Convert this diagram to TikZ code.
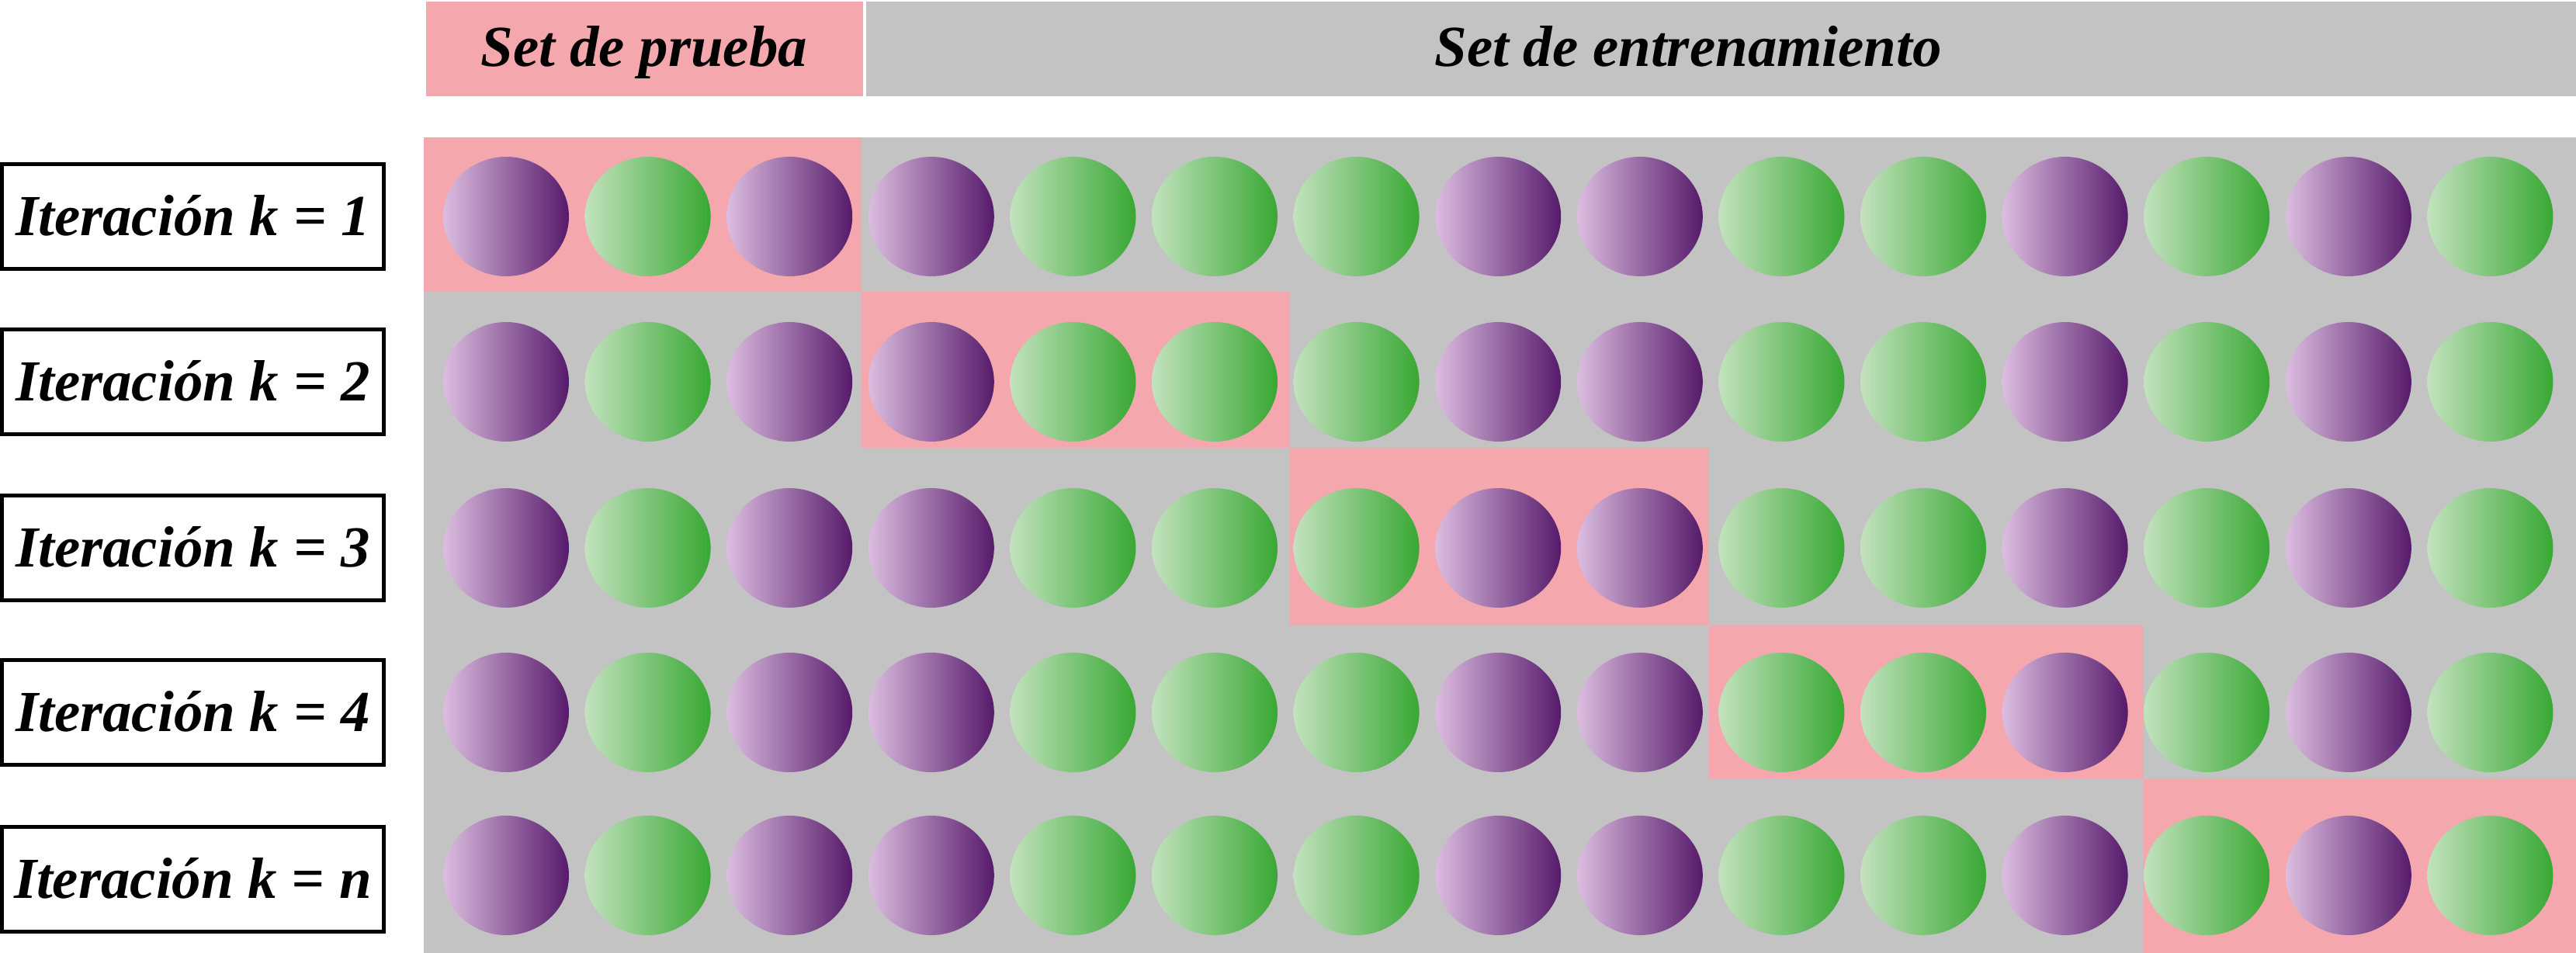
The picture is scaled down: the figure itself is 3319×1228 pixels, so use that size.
\documentclass[tikz,border=0pt]{standalone}
\usepackage{fontspec}
\setmainfont{Liberation Serif}
\definecolor{rosaprueba}{HTML}{F4A8AD}
\definecolor{grisentrena}{HTML}{C3C3C3}
\definecolor{moradoclaro}{HTML}{DCBDE0}
\definecolor{moradooscuro}{HTML}{561A6A}
\definecolor{verdeclaro}{HTML}{C3E2BE}
\definecolor{verdeoscuro}{HTML}{38A833}
\tikzset{
  titulo/.style={font=\fontsize{21.3}{25}\selectfont\bfseries\itshape,inner sep=0pt,text height=14.1pt,text depth=0pt},
  iterbox/.style={titulo,draw=black,fill=white,line width=0.05cm,minimum width=4.92cm,minimum height=1.34cm},
  bola/.style={left color=#1claro,right color=#1oscuro}
}
\begin{document}
\begin{tikzpicture}[x=0.01cm,y=-0.01cm,line join=miter]
  \useasboundingbox[fill=white] (0,0) rectangle (3319,1228);
  \fill[rosaprueba] (549,2) rectangle (1112,124);
  \fill[grisentrena] (1116,2) rectangle (3319,124);
  \node[titulo] (prueba) at (830,61) {Set de prueba};
  \node[titulo] (entrena) at (2175,61) {Set de entrenamiento};
  \foreach \yt/\yb/\yc/\xa/\xb in {177/376/279/546/1110,376/577/492/1110/1661,577/806/706/1661/2202,806/1003/918/2202/2762,1003/1228/1128/2762/3319}{
    \fill[grisentrena] (546,\yt) rectangle (3319,\yb);
    \fill[rosaprueba] (\xa,\yt) rectangle (\xb,\yb);
    \foreach \c [count=\i from 0] in {morado,verde,morado,morado,verde,verde,verde,morado,morado,verde,verde,morado,verde,morado,verde}
      \shade[bola=\c] (652+182.6*\i,\yc) ellipse [x radius=81,y radius=77];
  }
  \foreach \yc/\k [count=\r] in {279/1,492/2,706/3,918/4,1133/n}
    \node[iterbox] (iter\r) at (248.5,\yc) {Iteración k = \k};
\end{tikzpicture}
\end{document}
